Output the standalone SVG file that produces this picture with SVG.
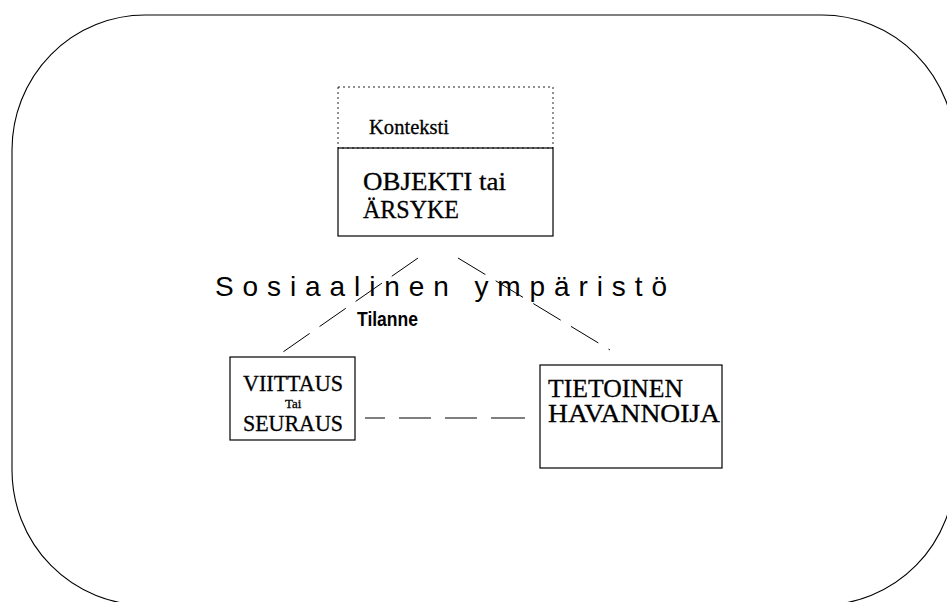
<svg xmlns="http://www.w3.org/2000/svg" width="947" height="602" viewBox="0 0 947 602">
<style>
.serif{font-family:"Liberation Serif","Times New Roman",serif;fill:#000;stroke:#000;stroke-width:0.3}
.sans{font-family:"Liberation Sans",Arial,sans-serif;fill:#000}
.box{fill:none;stroke:#000;stroke-width:1.2}
.dot{fill:none;stroke:#222;stroke-width:1;stroke-dasharray:2 3}
.dash{fill:none;stroke:#000;stroke-width:1}
</style>
<rect width="947" height="602" fill="#fff"/>
<g id="environment">
<rect x="12" y="15" width="943" height="590" rx="133" ry="135" fill="none" stroke="#000" stroke-width="1.1"/>
<text class="sans" x="215" y="296" font-size="28" textLength="452" lengthAdjust="spacing">Sosiaalinen ympäristö</text>
<text class="sans" x="357" y="326" font-size="21" font-weight="bold" textLength="61" lengthAdjust="spacingAndGlyphs">Tilanne</text>
</g>
<g id="connectors">
<line class="dash" x1="418" y1="258" x2="283" y2="352" stroke-dasharray="32 12"/>
<line class="dash" x1="458" y1="258" x2="610" y2="350" stroke-dasharray="32 12"/>
<line class="dash" x1="365" y1="418" x2="525" y2="418" stroke-dasharray="20 14 32 14 32 14 34"/>
</g>
<g id="context">
<rect class="dot" x="338" y="87" width="215" height="61"/>
<text class="serif" x="369" y="134" font-size="22" textLength="80" lengthAdjust="spacingAndGlyphs">Konteksti</text>
</g>
<g id="object">
<rect class="box" x="338" y="148" width="215" height="88"/>
<text class="serif" x="363" y="190" font-size="25" textLength="143" lengthAdjust="spacingAndGlyphs">OBJEKTI tai</text>
<text class="serif" x="363" y="218" font-size="25" textLength="96" lengthAdjust="spacingAndGlyphs">ÄRSYKE</text>
</g>
<g id="reference">
<rect class="box" x="230" y="357" width="125" height="83"/>
<text class="serif" x="243" y="391" font-size="24" textLength="100" lengthAdjust="spacingAndGlyphs">VIITTAUS</text>
<text class="serif" x="285" y="408" font-size="13">Tai</text>
<text class="serif" x="243" y="431" font-size="24" textLength="100" lengthAdjust="spacingAndGlyphs">SEURAUS</text>
</g>
<g id="observer">
<rect class="box" x="540" y="365" width="182" height="103"/>
<text class="serif" x="548" y="397" font-size="25" textLength="135" lengthAdjust="spacingAndGlyphs">TIETOINEN</text>
<text class="serif" x="548" y="422" font-size="25" textLength="172" lengthAdjust="spacingAndGlyphs">HAVANNOIJA</text>
</g>
</svg>
